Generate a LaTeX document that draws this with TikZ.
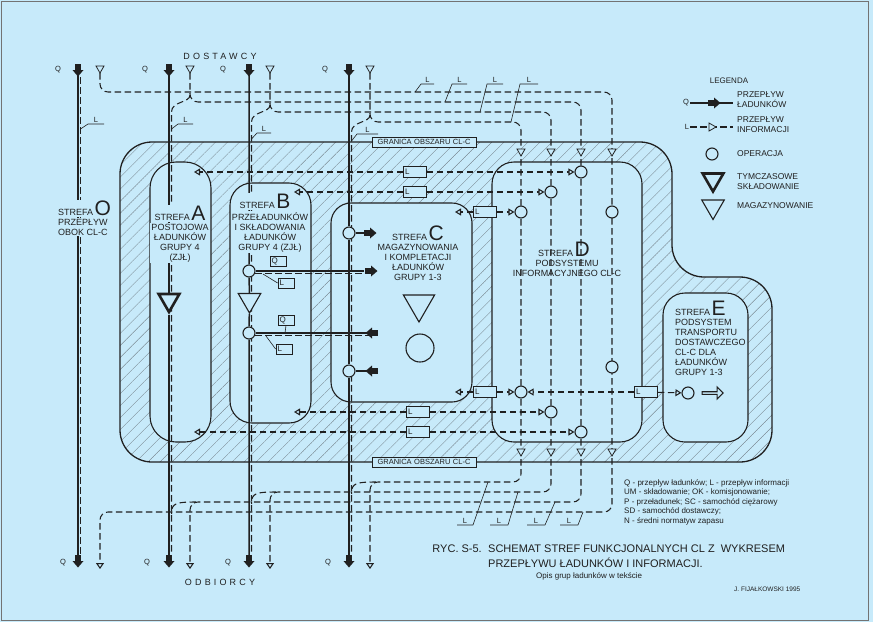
\documentclass[tikz,border=0pt]{standalone}
\usepackage{fontspec}
\setmainfont{Liberation Sans}
\newfontfamily\spacedfont[LetterSpace=35]{Liberation Sans}
\usetikzlibrary{arrows.meta,calc,shapes.geometric,shapes.arrows,patterns.meta}

\definecolor{paper}{RGB}{199,234,250}
\definecolor{ink}{RGB}{32,32,32}
\definecolor{hatchgray}{RGB}{125,140,150}

\newcommand{\zonefont}{\fontsize{9}{10}\selectfont}
\newcommand{\bigletterfont}{\fontsize{21}{21}\selectfont}

\tikzdeclarepattern{
    name=clhatch,
    type=uncolored,
    bounding box={(0pt,-0.5pt) and (8.5pt,0.5pt)},
    tile size={(8.5pt,8.5pt)},
    tile transformation={rotate=45},
    code={\draw[line width=0.4pt] (0pt,0pt) -- (8.5pt,0pt);}
}

\tikzset{
    zone/.style={draw=ink, line width=1.1pt, fill=paper, rounded corners=22pt,
                 inner sep=0pt, outer sep=0pt},
    boundary/.style={draw=ink, line width=1.3pt, pattern=clhatch,
                     pattern color=hatchgray, rounded corners=32pt},
    qline/.style={draw=ink, line width=1.5pt},
    info/.style={draw=ink, line width=1.05pt, dash pattern=on 6.5pt off 3.5pt},
    routed/.style={info, rounded corners=8pt,
                   -{Triangle[length=6pt, width=8pt, fill=paper]}},
    infotip/.style={info, -{Triangle[length=6pt, width=7pt, fill=paper]}},
    op/.style={circle, draw=ink, line width=1.1pt, fill=paper,
               minimum size=12pt, inner sep=0pt},
    stocktri/.style={regular polygon, regular polygon sides=3,
                     shape border rotate=180, draw=ink, line width=2.6pt,
                     fill=paper, inner sep=0pt, minimum size=24pt},
    magtri/.style={stocktri, line width=1.1pt, minimum size=26pt},
    lbox/.style={draw=ink, line width=0.8pt, fill=paper, text width=20pt,
                 align=left, minimum height=11pt, inner sep=1.5pt,
                 font=\fontsize{8}{8}\selectfont, text=ink},
    tagbox/.style={lbox, text width=13pt, minimum height=10pt},
    leader/.style={draw=ink, line width=0.6pt},
    lnote/.style={font=\fontsize{7.5}{8}\selectfont, text=ink, inner sep=1pt},
    zonetext/.style={font=\zonefont, text=ink, align=center, inner sep=1pt},
    legtext/.style={font=\fontsize{8.5}{10}\selectfont, text=ink, align=left,
                    anchor=west, inner sep=0pt},
    titletext/.style={font=\fontsize{11}{13}\selectfont, text=ink, inner sep=0pt},
    qhead/.pic={
        \fill[ink] (-6,-2.8) rectangle (0,2.8);
        \fill[ink] (0,-5.5) -- (0,5.5) -- (6.5,0) -- cycle;
    },
    itri/.pic={
        \draw[ink, line width=0.8pt, fill=paper, line join=miter]
            (-4,-3) -- (4,-3) -- (0,4) -- cycle;
    },
}

\begin{document}
\begin{tikzpicture}[x=1pt, y=-1pt]
    \useasboundingbox (0,0) rectangle (873,622);
    \fill[paper] (0,0) rectangle (873,622);
    \draw[black!55, line width=0.8pt] (1.5,1.5) rectangle (868,620);

    % hatched area of CL-C
    \draw[boundary] (120,462) -- (120,142) -- (672,142) -- (672,277)
        -- (772,277) -- (772,462) -- cycle;

    % zones
    \node[zone, minimum width=61pt, minimum height=280pt, rounded corners=26pt] (zoneA) at (180.5,302) {};
    \node[zone, minimum width=81pt, minimum height=240pt] (zoneB) at (270.5,303) {};
    \node[zone, minimum width=141pt, minimum height=199pt, rounded corners=20pt] (zoneC) at (401.5,302.5) {};
    \node[zone, minimum width=150pt, minimum height=280pt] (zoneD) at (567,302) {};
    \node[zone, minimum width=85pt, minimum height=149pt] (zoneE) at (705.5,367.5) {};

    \node[lbox, text width=102pt, align=center, minimum height=10pt, inner sep=1pt,
          font=\fontsize{7.5}{8}\selectfont] (borderTop) at (424,142) {GRANICA OBSZARU CL-C};
    \node[lbox, text width=102pt, align=center, minimum height=10pt, inner sep=1pt,
          font=\fontsize{7.5}{8}\selectfont] (borderBot) at (424,462) {GRANICA OBSZARU CL-C};

    % information channels
    \coordinate (src1) at (100,73);
    \coordinate (src2) at (190,73);
    \coordinate (src3) at (270,73);
    \coordinate (src4) at (370,73);
    \coordinate (dst1) at (100,569);
    \coordinate (dst2) at (190,569);
    \coordinate (dst3) at (270,569);
    \coordinate (dst4) at (370,569);
    \draw[routed] (src1) -- (100,92) -- (612,92) -- (612,512) -- (100,512) -- (dst1);
    \draw[routed] (src2) -- (190,102) -- (581,102) -- (581,502) -- (190,502) -- (dst2);
    \draw[routed] (src3) -- (270,112) -- (551,112) -- (551,492) -- (270,492) -- (dst3);
    \draw[routed] (src4) -- (370,122) -- (521,122) -- (521,482) -- (370,482) -- (dst4);

    % information beside the flows of loads
    \draw[info] (80.5,77) -- (80.5,555);
    \draw[info] (190,95) .. controls (190,103) and (171.5,101) .. (171.5,112) -- (171.5,555);
    \draw[info] (196,502) .. controls (176,502) and (171.5,503) .. (171.5,514);
    \draw[info] (270,105) .. controls (270,113) and (251.5,111) .. (251.5,122) -- (251.5,555);
    \draw[info] (276,492) .. controls (256,492) and (251.5,493) .. (251.5,504);
    \draw[info] (370,115) .. controls (370,123) and (351.5,121) .. (351.5,132) -- (351.5,555);
    \draw[info] (376,482) .. controls (356,482) and (351.5,483) .. (351.5,494);

    \pic at (100,69) {itri};
    \pic at (190,69) {itri};
    \pic at (270,69) {itri};
    \pic at (370,69) {itri};
    \pic at (521,152) {itri};
    \pic at (551,152) {itri};
    \pic at (581,152) {itri};
    \pic at (612,152) {itri};
    \pic at (521,452) {itri};
    \pic at (551,452) {itri};
    \pic at (581,452) {itri};
    \pic at (612,452) {itri};

    % operations and storage
    \node[stocktri] (stockA) at (169,300) {};
    \node[op] (opB1) at (249,271) {};
    \node[magtri] (magB) at (249.5,300) {};
    \node[op] (opB2) at (249,333) {};
    \node[op] (opC1) at (349,233) {};
    \node[op] (opC2) at (349,371) {};
    \node[magtri, minimum size=36pt] (magC) at (419,304) {};
    \node[op, minimum size=28pt] (opC3) at (420,348) {};
    \node[op] (opD1) at (581,172) {};
    \node[op] (opD2) at (551,192) {};
    \node[op] (opD3) at (521,212) {};
    \node[op] (opD4) at (612,212) {};
    \node[op] (opD5) at (612,367) {};
    \node[op] (opD6) at (521,392) {};
    \node[op] (opD7) at (551,412) {};
    \node[op] (opD8) at (581,432) {};
    \node[op] (opE) at (688,393) {};
    \node[single arrow, draw=ink, line width=1.1pt, fill=paper, minimum height=21pt,
          minimum width=12pt, single arrow head extend=2pt, inner sep=0pt] (outE) at (712,393) {};

    % flows of loads
    \coordinate (q1top) at (78,70);
    \coordinate (q2top) at (169,70);
    \coordinate (q3top) at (249,70);
    \coordinate (q4top) at (349,70);
    \coordinate (q1bot) at (78,555);
    \coordinate (q2bot) at (169,555);
    \coordinate (q3bot) at (249,555);
    \coordinate (q4bot) at (349,555);
    \draw[qline] (q1top) -- (q1bot);
    \draw[qline] (q2top) -- (stockA) -- (q2bot);
    \draw[qline] (q3top) -- (opB1) -- (magB) -- (opB2) -- (q3bot);
    \draw[qline] (q4top) -- (opC1) -- (opC2) -- (q4bot);
    \pic[rotate=-90] at (78,70) {qhead};
    \pic[rotate=-90] at (169,70) {qhead};
    \pic[rotate=-90] at (249,70) {qhead};
    \pic[rotate=-90] at (349,70) {qhead};
    \pic[rotate=-90] at (78,561) {qhead};
    \pic[rotate=-90] at (169,561) {qhead};
    \pic[rotate=-90] at (249,561) {qhead};
    \pic[rotate=-90] at (349,561) {qhead};

    \coordinate (toC1) at (364,271);
    \coordinate (fromC1) at (378,333);
    \coordinate (toC2) at (364,233);
    \coordinate (fromC2) at (378,371);
    \draw[qline] (opB1) -- (toC1);
    \draw[info] (255,273.8) -- (364,273.8);
    \pic at (371,271) {qhead};
    \draw[qline] (fromC1) -- (opB2);
    \draw[info] (255,335.8) -- (378,335.8);
    \pic[rotate=180] at (372,333) {qhead};
    \draw[qline] (opC1) -- (toC2);
    \pic at (370,233) {qhead};
    \draw[qline] (fromC2) -- (opC2);
    \pic[rotate=180] at (372,371) {qhead};

    \node[tagbox] (tagQ1) at (278,261) {Q};
    \node[tagbox] (tagL1) at (286,283) {L};
    \draw[leader] (263,274) -- (tagL1.west);
    \node[tagbox] (tagQ2) at (286,320) {Q};
    \draw[leader] (tagQ2.south) -- (285,333);
    \node[tagbox] (tagL2) at (284,349) {L};
    \draw[leader] (266,336) -- (tagL2.west);

    % information to and from zone D
    \coordinate (tipA1) at (194,172);
    \coordinate (tipB1) at (294,192);
    \coordinate (tipC1) at (455,212);
    \coordinate (tipC2) at (455,392);
    \coordinate (tipB2) at (294,412);
    \coordinate (tipA2) at (194,432);
    \node[lbox] (lA1) at (415,172) {L};
    \node[lbox] (lB1) at (415,192) {L};
    \node[lbox] (lC1) at (485,212) {L};
    \node[lbox] (lC2) at (485,392) {L};
    \node[lbox] (lE) at (646,392) {L};
    \node[lbox] (lB2) at (418,412) {L};
    \node[lbox] (lA2) at (418,432) {L};
    \draw[infotip] (lA1) -- (tipA1);
    \draw[infotip] (lA1) -- (opD1);
    \draw[infotip] (lB1) -- (tipB1);
    \draw[infotip] (lB1) -- (opD2);
    \draw[infotip] (lC1) -- (tipC1);
    \draw[infotip] (lC1) -- (opD3);
    \draw[infotip] (lC2) -- (tipC2);
    \draw[infotip] (lC2) -- (opD6);
    \draw[infotip] (lE) -- (opD6);
    \draw[infotip] (lE) -- (opE);
    \draw[infotip] (lB2) -- (tipB2);
    \draw[infotip] (lB2) -- (opD7);
    \draw[infotip] (lA2) -- (tipA2);
    \draw[infotip] (lA2) -- (opD8);

    \fill[ink] (349,172) circle (1.6pt);
    \fill[ink] (349,192) circle (1.6pt);
    \fill[ink] (521,172) circle (1.6pt);
    \fill[ink] (551,172) circle (1.6pt);
    \fill[ink] (521,192) circle (1.6pt);
    \fill[ink] (521,412) circle (1.6pt);
    \fill[ink] (521,432) circle (1.6pt);
    \fill[ink] (551,432) circle (1.6pt);

    % L notes
    \draw[leader] (80.5,129) -- (88,124) -- node[above, lnote] (lQ1) {L} (104,124);
    \draw[leader] (171.5,129) -- (178,124) -- node[above, lnote] (lQ2) {L} (193,124);
    \draw[leader] (251.5,139) -- (257,133) -- node[above, lnote] (lQ3) {L} (271,133);
    \draw[leader] (351.5,141) -- (357,134) -- node[above, lnote] (lQ4) {L} (378,134);
    \draw[leader] (415,92) -- (421,84) -- node[above, lnote] (lT1) {L} (434,84);
    \draw[leader] (445,102) -- (452,84) -- node[above, lnote] (lT2) {L} (467,84);
    \draw[leader] (480,112) -- (487,84) -- node[above, lnote] (lT3) {L} (503,84);
    \draw[leader] (511,122) -- (520,84) -- node[above, lnote] (lT4) {L} (538,84);
    \draw[leader] (488,482) -- (473,525) -- node[above, lnote] (lB1n) {L} (457,525);
    \draw[leader] (518,492) -- (508,525) -- node[above, lnote] (lB2n) {L} (490,525);
    \draw[leader] (555,502) -- (545,525) -- node[above, lnote] (lB3n) {L} (527,525);
    \draw[leader] (583,512) -- (578,525) -- node[above, lnote] (lB4n) {L} (560,525);

    % zone texts
    \node[zonetext, anchor=base west, fill=paper] (titleO) at (57,215.5) {STREFA\,{\bigletterfont O}};
    \node[zonetext, anchor=north west, align=left, fill=paper] (textO) at (57,218) {PRZEPŁYW\\OBOK CL-C};
    \node[zonetext, anchor=base, fill=paper] (titleA) at (180,220.5) {STREFA\,{\bigletterfont A}};
    \node[zonetext, anchor=north, fill=paper] (textA) at (180,223) {POSTOJOWA\\ŁADUNKÓW\\GRUPY 4\\(ZJŁ)};
    \node[zonetext, anchor=base, fill=paper] (titleB) at (265,208.5) {STREFA\,{\bigletterfont B}};
    \node[zonetext, anchor=north, fill=paper] (textB) at (270,211) {PRZEŁADUNKÓW\\I SKŁADOWANIA\\ŁADUNKÓW\\GRUPY 4 (ZJŁ)};
    \node[zonetext, anchor=base] (titleC) at (418,240.5) {STREFA\,{\bigletterfont C}};
    \node[zonetext, anchor=north] (textC) at (418,243) {MAGAZYNOWANIA\\I KOMPLETACJI\\ŁADUNKÓW\\GRUPY 1-3};
    \node[zonetext, anchor=base] (titleD) at (564,256) {STREFA\,{\bigletterfont D}};
    \node[zonetext, anchor=north] (textD) at (567,259) {PODSYSTEMU\\INFORMACYJNEGO CL-C};
    \node[zonetext, anchor=base west] (titleE) at (674,315.5) {STREFA\,{\bigletterfont E}};
    \node[zonetext, anchor=north west, align=left] (textE) at (674,318) {PODSYSTEM\\TRANSPORTU\\DOSTAWCZEGO\\CL-C DLA\\ŁADUNKÓW\\GRUPY 1-3};

    % suppliers and receivers
    \node[font=\spacedfont\fontsize{9}{9}\selectfont, text=ink] (suppliers) at (220,56) {DOSTAWCY};
    \node[font=\spacedfont\fontsize{9}{9}\selectfont, text=ink] (receivers) at (220,582) {ODBIORCY};
    \node[lnote] (qT1) at (58,70) {Q};
    \node[lnote] (qT2) at (145,70) {Q};
    \node[lnote] (qT3) at (223,70) {Q};
    \node[lnote] (qT4) at (325,70) {Q};
    \node[lnote] (qB1) at (63,563) {Q};
    \node[lnote] (qB2) at (147,563) {Q};
    \node[lnote] (qB3) at (228,563) {Q};
    \node[lnote] (qB4) at (328,563) {Q};

    % legend
    \node[lnote, font=\fontsize{8}{9}\selectfont] (legTitle) at (729,81) {LEGENDA};
    \node[lnote] (legQ) at (686,103) {Q};
    \draw[ink, line width=1.1pt] (legQ) -- (733,103);
    \pic at (714,103) {qhead};
    \node[legtext] (legQtext) at (737,100) {PRZEPŁYW\\ŁADUNKÓW};
    \node[lnote] (legL) at (687,127) {L};
    \draw[info] (legL) -- (733,127);
    \pic[rotate=90] at (712,127) {itri};
    \node[legtext] (legLtext) at (737,125) {PRZEPŁYW\\INFORMACJI};
    \node[op] (legOp) at (712,154) {};
    \node[legtext] (legOptext) at (737,154) {OPERACJA};
    \node[stocktri] (legStock) at (713,179.5) {};
    \node[legtext] (legStocktext) at (737,182) {TYMCZASOWE\\SKŁADOWANIE};
    \node[magtri] (legMag) at (713,206.5) {};
    \node[legtext] (legMagtext) at (737,206) {MAGAZYNOWANIE};

    % notes and title
    \node[anchor=north west, align=left, inner sep=0pt, text=ink,
          font=\fontsize{8}{9.6}\selectfont] (notes) at (624,479)
        {Q - przepływ ładunków; L - przepływ informacji\\
         UM - składowanie; OK - komisjonowanie;\\
         P - przeładunek; SC - samochód ciężarowy\\
         SD - samochód dostawczy;\\
         N - średni normatyw zapasu};
    \node[titletext, anchor=base east] (rycno) at (482,552.5) {RYC. S-5.};
    \node[titletext, anchor=base west] (title1) at (488,552.5) {SCHEMAT STREF FUNKCJONALNYCH CL Z\ \ WYKRESEM};
    \node[titletext, anchor=base west] (title2) at (488,567) {PRZEPŁYWU ŁADUNKÓW I INFORMACJI.};
    \node[lnote, anchor=base west, font=\fontsize{8}{9}\selectfont] (subtitle) at (535,578) {Opis grup ładunków w tekście};
    \node[lnote, anchor=base west, font=\fontsize{6.5}{7}\selectfont] (sign) at (733,591) {J. FIJAŁKOWSKI 1995};
\end{tikzpicture}
\end{document}
